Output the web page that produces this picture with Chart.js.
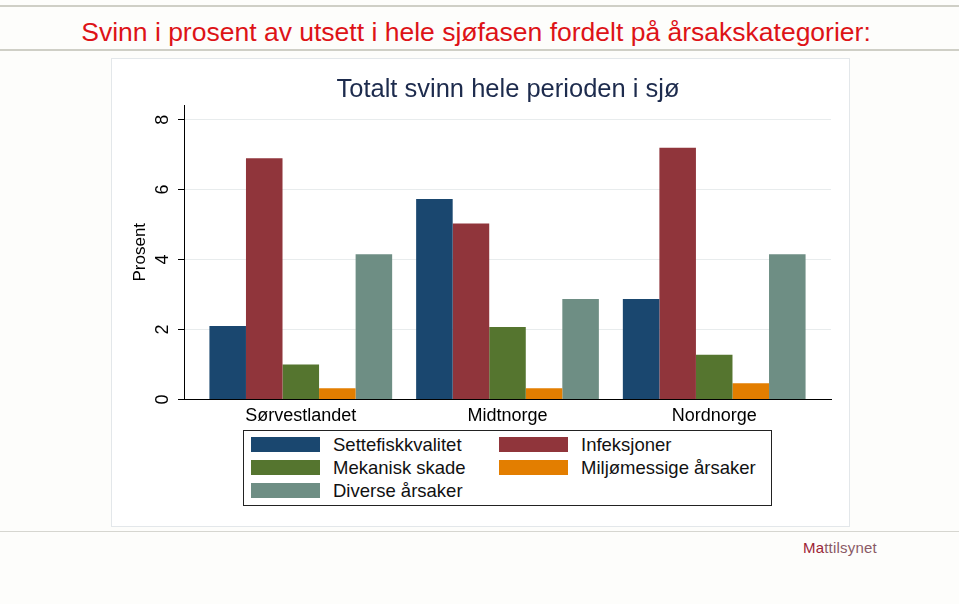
<!DOCTYPE html>
<html>
<head>
<meta charset="utf-8">
<script src="https://cdn.jsdelivr.net/npm/chart.js@4.4.1/dist/chart.umd.min.js"></script>
<style>
  body { margin: 0; width: 959px; height: 604px; background: #fdfdfb; position: relative; overflow: hidden; font-family: "Liberation Sans", Arial, sans-serif; }
  .rule { position: absolute; left: 0; width: 959px; background: #cfcfc6; }
  #heading { position: absolute; left: 0; top: 17px; width: 952px; text-align: center; color: #dd1317; font-size: 26.5px; line-height: 30px; }
  #panel { position: absolute; left: 111px; top: 58px; width: 737px; height: 467px; background: #fff; border: 1px solid #e3e7ea; }
  #charttitle { position: absolute; left: 308px; width: 400px; top: 73px; text-align: center; color: #1d2b4d; font-size: 25.5px; line-height: 30px; }
  #chartwrap { position: absolute; left: 111px; top: 58px; width: 739px; height: 469px; }
  #legend { position: absolute; left: 243px; top: 430px; width: 527px; height: 72px; border: 1.5px solid #222; background: #fff;
            display: grid; grid-template-columns: 248px 279px; grid-auto-rows: 23px; padding-top: 2px; box-sizing: content-box; }
  #legend .item { display: flex; align-items: center; font-size: 18.5px; color: #111; }
  #legend .sw { width: 69px; height: 15px; margin-left: 7px; margin-right: 13px; }
  #logo { position: absolute; left: 803px; top: 539px; font-size: 15px; color: #8a5a66; letter-spacing: 0.2px; }
  #logo b { font-weight: normal; color: #9c2435; }
</style>
</head>
<body>
<div class="rule" style="top:5px;height:2px"></div>
<div id="heading">Svinn i prosent av utsett i hele sjøfasen fordelt på årsakskategorier:</div>
<div class="rule" style="top:49px;height:2px"></div>
<div id="panel"></div>
<div class="rule" style="top:531px;height:1px;background:#d6d6d0"></div>
<div id="chartwrap"><canvas id="chart"></canvas></div>
<div id="charttitle"></div>
<div id="legend"></div>
<div id="logo"><b>Ma</b>ttilsynet</div>

<script>
const chartTitle = 'Totalt svinn hele perioden i sjø';
const regions = ['Sørvestlandet', 'Midtnorge', 'Nordnorge'];
const causes = ['Settefiskkvalitet', 'Infeksjoner', 'Mekanisk skade', 'Miljømessige årsaker', 'Diverse årsaker'];
const colors = ['#1a476f', '#90353b', '#55752f', '#e37e00', '#6e8e84'];

// prosent per region, one array per cause
const settefisk = [2.1, 5.73, 2.87];
const infeksjoner = [6.9, 5.03, 7.2];
const mekanisk = [1.0, 2.07, 1.28];
const miljo = [0.32, 0.32, 0.46];
const diverse = [4.15, 2.87, 4.15];
const yTicks = [0, 2, 4, 6, 8];

const seriesValues = [settefisk, infeksjoner, mekanisk, miljo, diverse];

document.getElementById('charttitle').textContent = chartTitle;

const datasets = causes.map((name, i) => ({
    label: name,
    data: seriesValues[i].map((v, r) => ({ x: r, y: v })),
    backgroundColor: colors[i],
    borderWidth: 0,
    categoryPercentage: 0.884,
    barPercentage: 1
}));

const ctx = document.getElementById('chart');
const chart = new Chart(ctx, {
    type: 'bar',
    data: { datasets: datasets },
    options: {
        responsive: true,
        maintainAspectRatio: false,
        animation: false,
        layout: { padding: { left: 0, right: 19, top: 47, bottom: 102 } },
        plugins: {
            legend: { display: false },
            tooltip: { enabled: false },
            title: { display: false }
        },
        scales: {
            x: {
                type: 'linear',
                offset: false,
                min: -0.565,
                max: 2.565,
                afterBuildTicks: s => { s.ticks = regions.map((r, i) => ({ value: i })); },
                ticks: {
                    callback: v => regions[v],
                    color: '#000',
                    font: { family: 'Liberation Sans', size: 18 },
                    maxRotation: 0,
                    padding: -2
                },
                grid: { display: false },
                border: { display: true, color: '#000', width: 1 }
            },
            y: {
                min: 0,
                max: 8.42,
                afterBuildTicks: s => { s.ticks = yTicks.map(v => ({ value: v })); },
                afterFit: s => { s.width = 73; },
                ticks: {
                    color: '#000',
                    font: { family: 'Liberation Sans', size: 18 },
                    minRotation: 90,
                    maxRotation: 90,
                    crossAlign: 'center',
                    padding: 10
                },
                grid: { color: '#e8eced', lineWidth: 1, tickLength: 6, tickColor: '#000' },
                border: { display: true, color: '#000', width: 1 },
                title: {
                    display: true,
                    text: 'Prosent',
                    color: '#000',
                    font: { family: 'Liberation Sans', size: 17 },
                    padding: { top: 19, bottom: 0 }
                }
            }
        }
    }
});

// legend boxes in two columns, like the original
const legendBox = document.getElementById('legend');
chart.data.datasets.forEach(ds => {
    const item = document.createElement('div');
    item.className = 'item';
    item.innerHTML = `<span class="sw" style="background:${ds.backgroundColor}"></span><span>${ds.label}</span>`;
    legendBox.appendChild(item);
});
</script>
</body>
</html>
